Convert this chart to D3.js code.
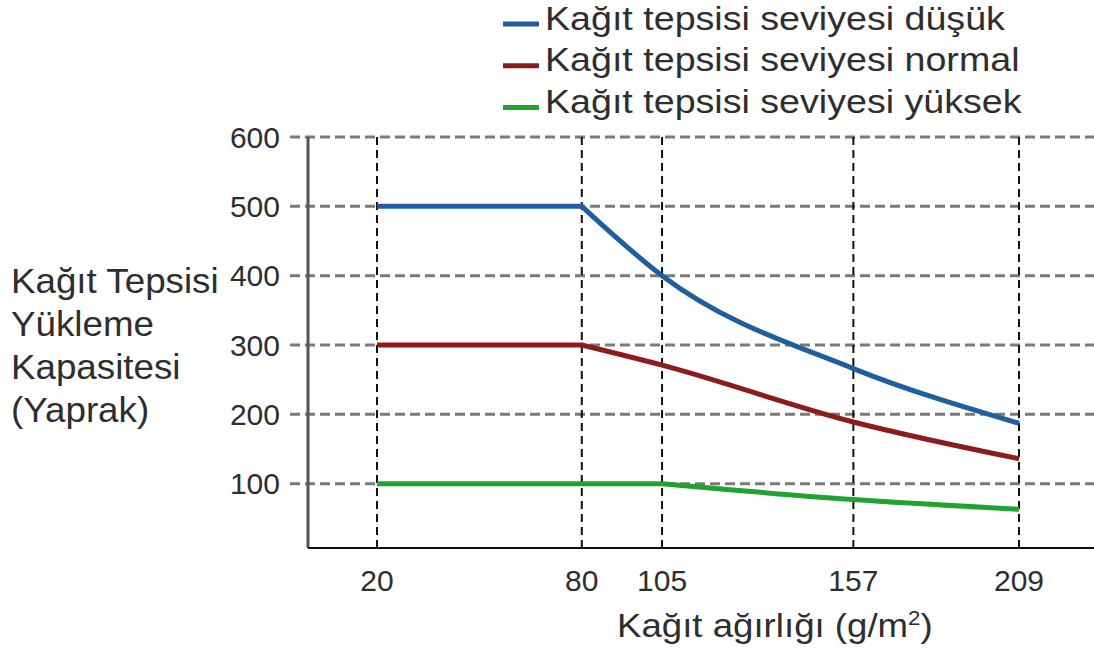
<!DOCTYPE html>
<html>
<head>
<meta charset="utf-8">
<title></title>
<style>
body { margin: 0; background: #fff; }
text { font-family: "Liberation Sans", Arial, sans-serif; fill: #2e2e2e; }
</style>
</head>
<body>
<script src="https://cdn.jsdelivr.net/npm/d3@7"></script>
<script>

// data
var weights = [20, 80, 105, 157, 209];
var yTicks = [100, 200, 300, 400, 500, 600];
var seriesNames = ["Kağıt tepsisi seviyesi düşük", "Kağıt tepsisi seviyesi normal", "Kağıt tepsisi seviyesi yüksek"];
var lowX = [20, 80, 105, 157, 209];
var lowY = [500, 500, 400, 266, 187];
var normalX = [20, 80, 105, 157, 209];
var normalY = [300, 300, 271, 189, 136];
var highX = [20, 80, 105, 157, 209];
var highY = [100, 100, 100, 77, 63];
var colors = ["#1f5fa0", "#8c1b1b", "#22a22e"];

var width = 1094, height = 657;
// the x axis of the original is not evenly spaced
var xStops = [0, 0.319, 0.444, 0.742, 1];
var xLeft = 377, xRight = 1019;

var x = d3.scaleLinear()
    .domain(weights)
    .range(xStops.map(function(f) { return xLeft + f * (xRight - xLeft); }));

var y = d3.scaleLinear().domain([0, 600]).range([553, 137]);

var axisX = 308, baseY = y(0) - 5;

var svg = d3.select("body").append("svg")
    .attr("width", width)
    .attr("height", height);

// horizontal grid
svg.append("g").selectAll("line")
    .data(yTicks)
    .enter().append("line")
    .attr("x1", 290).attr("x2", width)
    .attr("y1", function(d) { return y(d); })
    .attr("y2", function(d) { return y(d); })
    .style("stroke", "#7a7a7a")
    .style("stroke-width", 3)
    .style("stroke-dasharray", "10,5");

// vertical grid
svg.append("g").selectAll("line")
    .data(weights)
    .enter().append("line")
    .attr("x1", function(d) { return x(d); })
    .attr("x2", function(d) { return x(d); })
    .attr("y1", y(600)).attr("y2", baseY)
    .style("stroke", "#111")
    .style("stroke-width", 2)
    .style("stroke-dasharray", "8,5");

// axes
svg.append("line")
    .attr("x1", axisX).attr("x2", axisX)
    .attr("y1", y(600)).attr("y2", baseY)
    .style("stroke", "#555").style("stroke-width", 3);
svg.append("line")
    .attr("x1", axisX).attr("x2", width)
    .attr("y1", baseY).attr("y2", baseY)
    .style("stroke", "#111").style("stroke-width", 2);

svg.append("g").selectAll("text")
    .data(yTicks)
    .enter().append("text")
    .attr("x", 280)
    .attr("y", function(d) { return y(d); })
    .attr("dy", "0.36em")
    .attr("text-anchor", "end")
    .style("font-size", "30px")
    .text(function(d) { return d; });

svg.append("g").selectAll("text")
    .data(weights)
    .enter().append("text")
    .attr("x", function(d) { return x(d); })
    .attr("y", 580)
    .attr("dy", "0.36em")
    .attr("text-anchor", "middle")
    .style("font-size", "30px")
    .text(function(d) { return d; });

// axis titles (the original lettering is a little wider than the font)
var xt = svg.append("text")
    .attr("transform", "translate(617,637) scale(1.11,1)")
    .style("font-size", "33px");
xt.append("tspan").text("Kağıt ağırlığı (g/m");
xt.append("tspan").attr("dy", -12).style("font-size", "20px").text("2");
xt.append("tspan").attr("dy", 12).text(")");

var yLabel = ["Kağıt Tepsisi", "Yükleme", "Kapasitesi", "(Yaprak)"];
svg.append("g").selectAll("text")
    .data(yLabel)
    .enter().append("text")
    .attr("transform", function(d, i) { return "translate(11," + (293 + i * 43) + ") scale(1.05,1)"; })
    .style("font-size", "35px")
    .text(function(d) { return d; });

// lines: straight up to the knee, smooth after it
var series = [
  lowX.map(function(v, i) { return [v, lowY[i]]; }),
  normalX.map(function(v, i) { return [v, normalY[i]]; }),
  highX.map(function(v, i) { return [v, highY[i]]; })
];

var straight = d3.line()
    .x(function(d) { return x(d[0]); })
    .y(function(d) { return y(d[1]); });
var smooth = d3.line()
    .x(function(d) { return x(d[0]); })
    .y(function(d) { return y(d[1]); })
    .curve(d3.curveMonotoneX);

function seriesPath(pts) {
  var k = 0;
  while (k + 1 < pts.length && pts[k + 1][1] === pts[0][1]) k++;
  var flat = straight(pts.slice(0, k + 1));
  var rest = pts.slice(k);
  if (rest.length < 2) return flat;
  return flat + smooth(rest).replace(/^M/, "L");
}

svg.append("g").selectAll("path")
    .data(series)
    .enter().append("path")
    .attr("d", seriesPath)
    .style("fill", "none")
    .style("stroke", function(d, i) { return colors[i]; })
    .style("stroke-width", 5);

// legend
var legend = svg.append("g").selectAll("g")
    .data(seriesNames)
    .enter().append("g")
    .attr("transform", function(d, i) { return "translate(503," + (24 + i * 41.8) + ")"; });

legend.append("line")
    .attr("x1", 0).attr("x2", 36)
    .style("stroke", function(d, i) { return colors[i]; })
    .style("stroke-width", 5);

legend.append("text")
    .attr("transform", "translate(42,5.5) scale(1.14,1)")
    .style("font-size", "33px")
    .text(function(d) { return d; });

</script>
</body>
</html>
